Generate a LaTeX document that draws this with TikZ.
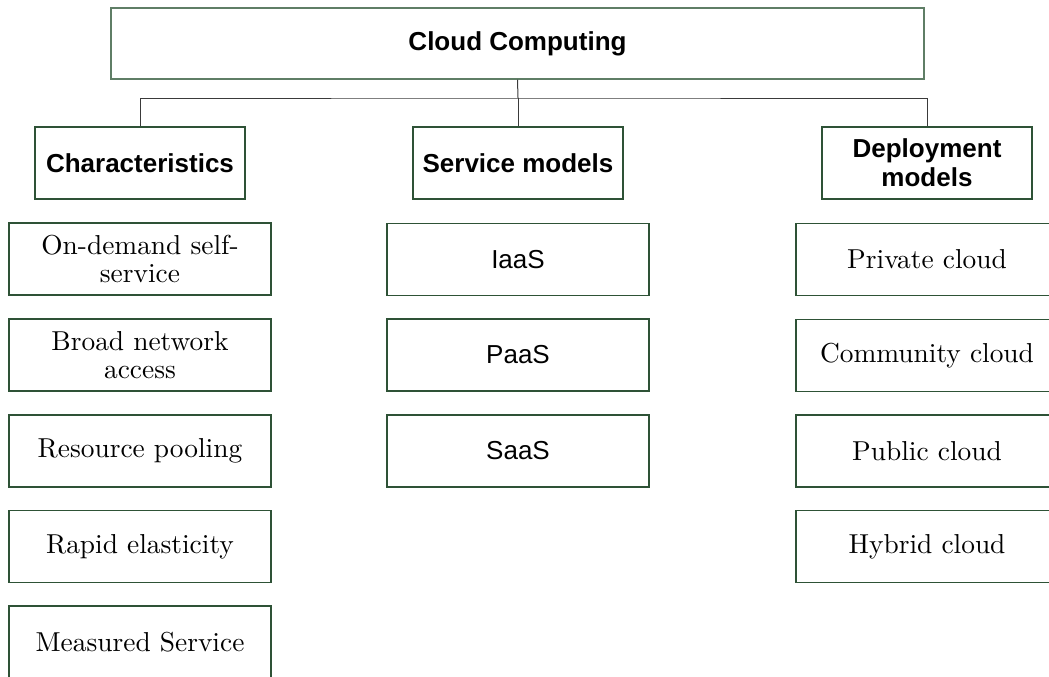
\documentclass[tikz,border=0pt]{standalone}
\usepackage{fontspec}
\newfontfamily\lmten{lmroman10-regular.otf}
\newfontfamily\arialf{Liberation Sans}
\definecolor{boxgreen}{HTML}{2E5236}
\definecolor{topgreen}{HTML}{5F7E66}
\definecolor{linegray}{HTML}{3A3A3A}
\tikzset{
  box/.style={draw=boxgreen, line width=1.1pt, rectangle, inner sep=0pt, align=center},
  headbox/.style={box, minimum width=210pt, minimum height=72pt, font=\arialf\bfseries\fontsize{26}{29}\selectfont},
  itembox/.style={box, minimum width=262pt, minimum height=72pt, font=\lmten\fontsize{27.4}{28.5}\selectfont},
  sansitem/.style={box, minimum width=262pt, minimum height=72pt, font=\arialf\fontsize{26}{28}\selectfont},
  conn/.style={draw=linegray, line width=1pt}
}
\begin{document}
\begin{tikzpicture}[x=1pt,y=-1pt]
\clip (0,0) rectangle (1049,677);
\useasboundingbox (0,0) rectangle (1049,677);
\node[box, draw=topgreen, minimum width=813pt, minimum height=71pt, font=\arialf\bfseries\fontsize{26}{29}\selectfont] (top) at (517.5,43.5) {Cloud Computing};
\node[headbox] (ch) at (140,163) {Characteristics};
\node[headbox] (sm) at (518,163) {Service models};
\node[headbox] (dm) at (927,163) {Deployment\\models};
\coordinate (j) at (518,98);
\draw[conn] (top.south) -- (j);
\draw[conn] (ch.north) |- (j) -| (dm.north);
\draw[conn] (j) -- (sm.north);
% left column
\node[itembox] (c1) at (140,259) {On-demand self-\\service};
\node[itembox] (c2) at (140,355) {Broad network\\access};
\node[itembox] (c3) at (140,451) {Resource pooling};
\node[itembox] (c4) at (140,546.5) {Rapid elasticity};
\node[itembox] (c5) at (140,642) {Measured Service};
% middle column
\node[sansitem] (s1) at (518,259.5) {IaaS};
\node[sansitem] (s2) at (518,355) {PaaS};
\node[sansitem] (s3) at (518,451) {SaaS};
% right column
\node[itembox] (d1) at (927,259.5) {Private cloud};
\node[itembox] (d2) at (927,355.5) {Community cloud};
\node[itembox] (d3) at (927,451) {Public cloud};
\node[itembox] (d4) at (927,546.5) {Hybrid cloud};
\end{tikzpicture}
\end{document}
